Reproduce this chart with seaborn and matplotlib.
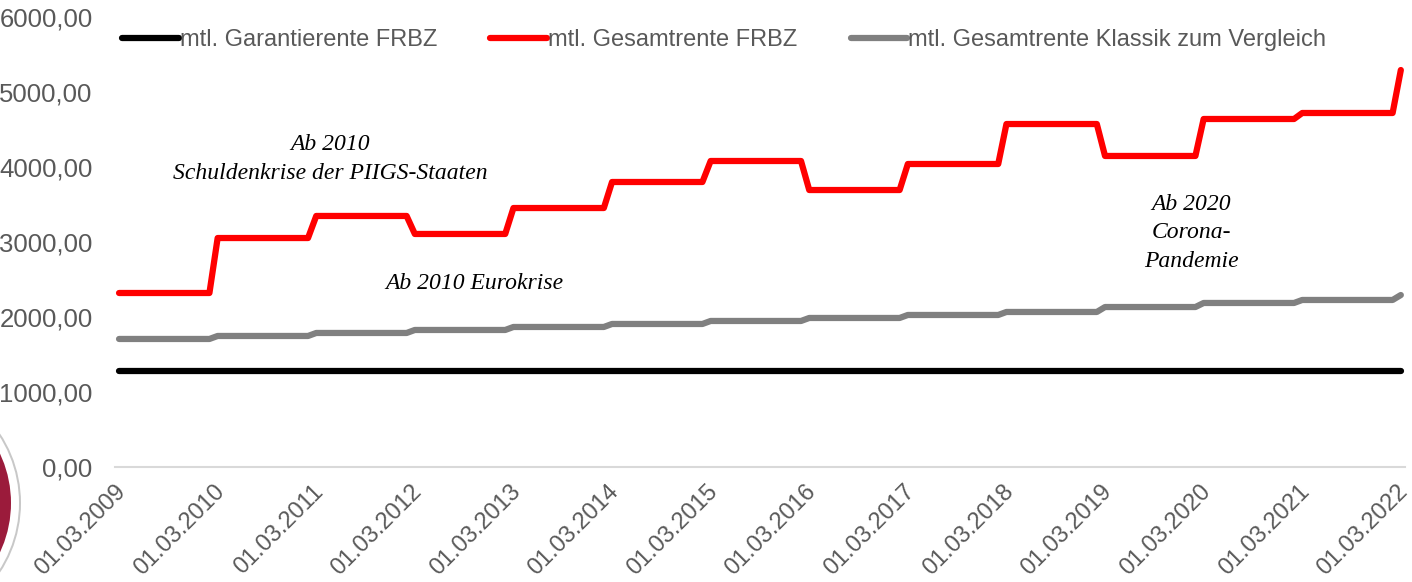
import numpy as np
import pandas as pd
import matplotlib.pyplot as plt
import seaborn as sns
from matplotlib.patches import Circle
from matplotlib.transforms import IdentityTransform

# yearly values (March of each year), monthly steps in between
years = list(range(2009, 2023))
gesamt_frbz = [2320, 3053, 3347, 3107, 3453, 3800, 4080, 3693, 4040, 4573, 4147, 4640, 4720, 5293]
gesamt_klassik = [1707, 1747, 1787, 1827, 1867, 1907, 1947, 1987, 2027, 2067, 2133, 2187, 2227, 2293]
garantie = 1280

tick_labels = [f"01.03.{y}" for y in years]
series_names = ["mtl. Garantierente FRBZ", "mtl. Gesamtrente FRBZ",
                "mtl. Gesamtrente Klassik zum Vergleich"]

# monthly rows: 12 months per year, plus the final March 2022 point
months = np.arange(12 * (len(years) - 1) + 1)
year_idx = months // 12
df = pd.DataFrame({
    "monat": np.concatenate([months + 0.5] * 3),
    "rente": np.concatenate([
        np.full(len(months), garantie),
        np.array(gesamt_frbz)[year_idx],
        np.array(gesamt_klassik)[year_idx],
    ]),
    "reihe": np.repeat(series_names, len(months)),
})

sns.set_style("white")
plt.rcParams['font.family'] = ['Liberation Sans', 'DejaVu Sans']

fig = plt.figure(figsize=(14.12, 5.82), dpi=100)
ax = fig.add_axes([0.0814, 0.1976, 0.9136, 0.7732])

sns.lineplot(data=df, x="monat", y="rente", hue="reihe", hue_order=series_names,
             palette=["#000000", "#ff0000", "#808080"], linewidth=4.5,
             solid_capstyle="round", ax=ax)

ax.set_xlim(0, 157)
ax.set_ylim(0, 6000)
ax.set_xticks(np.arange(0, 157, 12))
ax.set_xticklabels(tick_labels, rotation=45, ha="right", va="top",
                   rotation_mode="anchor", fontsize=17, color="#595959")
ax.set_yticks(np.arange(0, 6001, 1000))
ax.set_yticklabels([f"{v},00" for v in range(0, 6001, 1000)], fontsize=18.5, color="#595959")
ax.set_xlabel("")
ax.set_ylabel("")
for s in ["top", "right", "left"]:
    ax.spines[s].set_visible(False)
ax.spines["bottom"].set_color("#d9d9d9")
ax.spines["bottom"].set_linewidth(1.5)
ax.tick_params(axis="x", length=6, width=1.5, color="#d9d9d9", pad=4)
ax.tick_params(axis="y", length=0, pad=16)

leg = ax.legend(loc="center left", bbox_to_anchor=(122 / 1412, 1 - 40 / 582),
                bbox_transform=fig.transFigure, ncol=3, frameon=False,
                fontsize=17, handlelength=2.4, handletextpad=0.05, columnspacing=2.25,
                borderpad=0, borderaxespad=0)
for t in leg.get_texts():
    t.set_color("#595959")

serif = dict(family=["Liberation Serif", "DejaVu Serif"], style="italic", fontsize=17,
             color="black", ha="center", va="center")
ax.text(26.2, 4107, "Ab 2010\nSchuldenkrise der PIIGS-Staaten", linespacing=1.55, **serif)
ax.text(43.8, 2440, "Ab 2010 Eurokrise", **serif)
ax.text(131, 3120, "Ab 2020\nCorona-\nPandemie", linespacing=1.45, **serif)

# partial round logo in the lower left corner
for r, c in [(126, "#c8c8c8"), (124, "white"), (116, "#9b1b3b")]:
    fig.patches.append(Circle((-105, 79), r, transform=IdentityTransform(),
                              facecolor=c, edgecolor="none", figure=fig))

fig.savefig("out.png", dpi=100)
